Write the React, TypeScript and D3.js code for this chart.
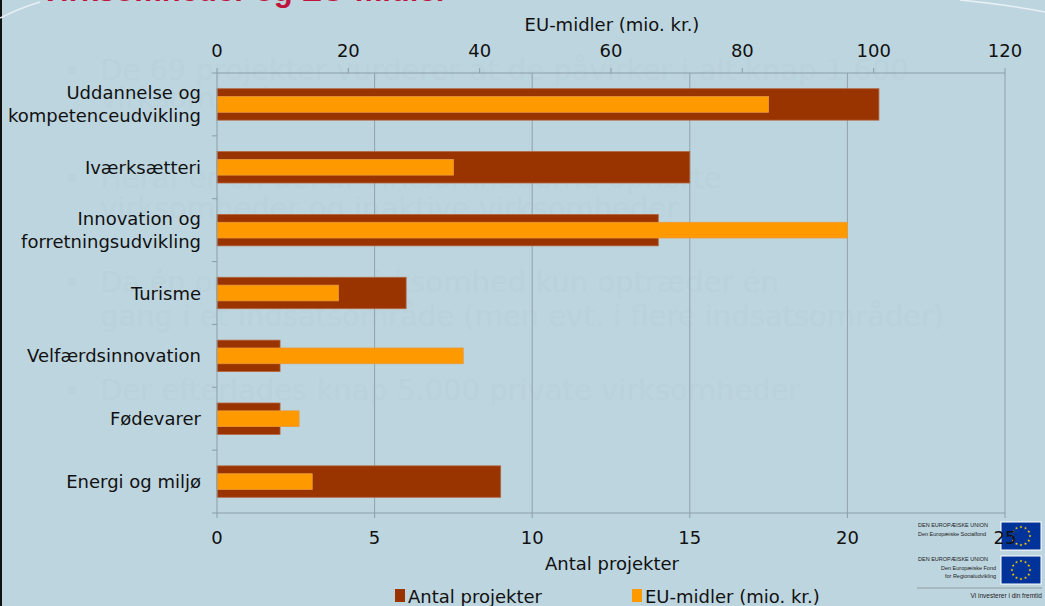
import React from "react";
import * as d3 from "d3";

const categories = [
  "Uddannelse og|kompetenceudvikling",
  "Iværksætteri",
  "Innovation og|forretningsudvikling",
  "Turisme",
  "Velfærdsinnovation",
  "Fødevarer",
  "Energi og miljø",
];
const antalProjekter = [21, 15, 14, 6, 2, 2, 9];
const euMidler = [84, 36, 96, 18.5, 37.5, 12.5, 14.5];
const bottomTicks = [0, 5, 10, 15, 20, 25];
const topTicks = [0, 20, 40, 60, 80, 100, 120];
const ghostLines = [
  { t: "De 69 projekter vurderer at de påvirker i alt knap 1.600", b: true },
  { t: "virksomheder", b: false },
  { t: "Heraf er en del af virksomhederne ophørte", b: true },
  { t: "virksomheder og inaktive virksomheder", b: false },
  { t: "Da én og samme virksomhed kun optræder én", b: true },
  { t: "gang i et indsatsområde (men evt. i flere indsatsområder)", b: false },
  { t: "Der efterlades knap 5.000 private virksomheder", b: true },
];
const ghostY = [80, 108, 188, 218, 292, 326, 400];

const W = 1045, H = 606;
const left = 217, right = 1005, top = 73, bottom = 513;
const FONT = "'DejaVu Sans', Verdana, sans-serif";
const DARK = "#993300", ORANGE = "#ff9900";
const FS = 18;

export default function App() {
  const xB = d3.scaleLinear().domain([0, 25]).range([left, right]);
  const xT = d3.scaleLinear().domain([0, 120]).range([left, right]);
  const y = d3.scaleBand().domain(categories).range([top, bottom]).paddingInner(0).paddingOuter(0);
  const bw = y.bandwidth();
  const darkH = bw * 0.5;
  const orH = bw * 0.25;

  const star = (cx: number, cy: number, r: number) => {
    const pts = d3.range(10).map((i) => {
      const a = (Math.PI / 5) * i - Math.PI / 2;
      const rr = i % 2 === 0 ? r : r * 0.4;
      return [cx + rr * Math.cos(a), cy + rr * Math.sin(a)];
    });
    return "M" + pts.map((p) => p.join(",")).join("L") + "Z";
  };
  const flag = (x: number, yy: number) => (
    <g>
      <rect x={x} y={yy} width={40} height={28} fill="#003399" stroke="#fff" strokeWidth={1} />
      {d3.range(12).map((i) => {
        const a = (Math.PI * 2 * i) / 12;
        return <path key={i} d={star(x + 20 + 9 * Math.cos(a), yy + 14 + 9 * Math.sin(a), 1.6)} fill="#ffcc00" />;
      })}
    </g>
  );

  return (
    <svg width={W} height={H} style={{ position: "absolute", left: 0, top: 0 }} fontFamily={FONT}>
      <rect x={0} y={0} width={W} height={H} fill="#bdd5df" />
      <rect x={0} y={0} width={2} height={H} fill="#111" />
      <path d="M0,18 Q20,8 40,2" stroke="#e8f0f4" strokeWidth={1.5} fill="none" />
      <path d="M960,0 Q1010,5 1045,12" stroke="#e8f0f4" strokeWidth={1.5} fill="none" />
      <text x={40} y={1} fill="#c0143c" fontSize={31} fontWeight="bold" fontFamily="Arial, 'Liberation Sans', sans-serif">
        Virksomheder og EU-midler
      </text>

      {/* ghost slide text */}
      <g fill="#b9d2dc" fontSize={29} fontFamily={FONT}>
        {ghostLines.map((g, i) => (
          <g key={i}>
            {g.b && <circle cx={72} cy={ghostY[i] - 10} r={4} />}
            <text x={100} y={ghostY[i]}>{g.t}</text>
          </g>
        ))}
      </g>

      {/* gridlines */}
      {bottomTicks.slice(1).map((t) => (
        <line key={t} x1={xB(t)} x2={xB(t)} y1={top} y2={bottom} stroke="#8fa3ac" strokeWidth={1} />
      ))}

      {/* bars */}
      {categories.map((c, i) => {
        const cy = (y(c) as number) + bw / 2;
        return (
          <g key={c}>
            <rect x={xB(0)} y={cy - darkH / 2} width={xB(antalProjekter[i]) - xB(0)} height={darkH} fill={DARK} stroke="#b5653f" strokeWidth={0.8} />
            <rect x={xT(0)} y={cy - orH / 2} width={xT(euMidler[i]) - xT(0)} height={orH} fill={ORANGE} stroke="#e89a3a" strokeWidth={0.8} />
          </g>
        );
      })}

      {/* axes lines */}
      <line x1={left} x2={right} y1={bottom} y2={bottom} stroke="#8a9ea8" />
      <line x1={left} x2={right} y1={top} y2={top} stroke="#8a9ea8" />
      <line x1={left} x2={left} y1={top} y2={bottom} stroke="#8a9ea8" />

      {/* category ticks */}
      {d3.range(categories.length + 1).map((i) => (
        <line key={i} x1={left - 5} x2={left} y1={top + i * bw} y2={top + i * bw} stroke="#8a9ea8" />
      ))}

      {/* EU logos */}
      <g fontFamily="Arial, 'Liberation Sans', sans-serif" fill="#222">
        <text x={918} y={527} fontSize={5.5}>DEN EUROPÆISKE UNION</text>
        <text x={918} y={536} fontSize={5.5}>Den Europæiske Socialfond</text>
        <text x={918} y={561} fontSize={5.5}>DEN EUROPÆISKE UNION</text>
        <text x={996} y={570} fontSize={5.5} textAnchor="end">Den Europæiske Fond</text>
        <text x={996} y={578} fontSize={5.5} textAnchor="end">for Regionaludvikling</text>
        <line x1={917} x2={1042} y1={588} y2={588} stroke="#777" strokeWidth={0.6} />
        <text x={1042} y={598} fontSize={6.5} textAnchor="end">Vi investerer i din fremtid</text>
      </g>
      {flag(1001, 522)}
      {flag(1001, 556)}

      {/* bottom ticks */}
      {bottomTicks.map((t) => (
        <g key={t}>
          <line x1={xB(t)} x2={xB(t)} y1={bottom} y2={bottom + 5} stroke="#8a9ea8" />
          <text x={xB(t)} y={544} textAnchor="middle" fontSize={FS} fill="#111">{t}</text>
        </g>
      ))}
      <text x={612} y={570} textAnchor="middle" fontSize={FS} fill="#111">Antal projekter</text>

      {/* top ticks */}
      {topTicks.map((t) => (
        <g key={t}>
          <line x1={xT(t)} x2={xT(t)} y1={top - 5} y2={top} stroke="#8a9ea8" />
          <text x={xT(t)} y={57} textAnchor="middle" fontSize={FS} fill="#111">{t}</text>
        </g>
      ))}
      <text x={612} y={31} textAnchor="middle" fontSize={FS} fill="#111">EU-midler (mio. kr.)</text>

      {/* category labels */}
      {categories.map((c) => {
        const lines = c.split("|");
        const cy = (y(c) as number) + bw / 2;
        return (
          <text key={c} x={201} textAnchor="end" fontSize={FS} fill="#111">
            {lines.map((l, j) => (
              <tspan key={j} x={201} y={cy + 6.5 + (j - (lines.length - 1) / 2) * 23}>{l}</tspan>
            ))}
          </text>
        );
      })}

      {/* legend */}
      <rect x={395} y={589} width={10} height={13} fill={DARK} />
      <text x={408} y={603} fontSize={FS} fill="#111">Antal projekter</text>
      <rect x={632} y={589} width={10} height={13} fill={ORANGE} />
      <text x={645} y={603} fontSize={FS} fill="#111">EU-midler (mio. kr.)</text>
    </svg>
  );
}
